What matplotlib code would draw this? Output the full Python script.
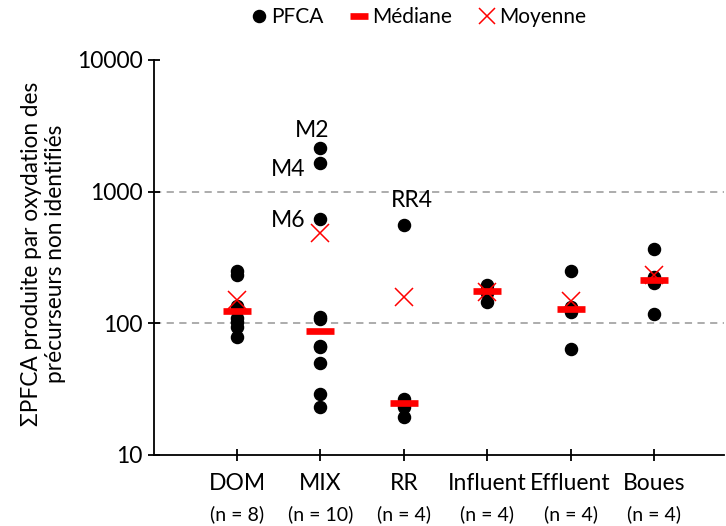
import numpy as np
import matplotlib
matplotlib.use("Agg")
import matplotlib.pyplot as plt
from matplotlib.lines import Line2D
import matplotlib.transforms as mtransforms

plt.rcParams['font.family'] = ['Lato', 'DejaVu Sans']

# categories and counts
categories = ["DOM", "MIX", "RR", "Influent", "Effluent", "Boues"]
n_labels = ["(n = 8)", "(n = 10)", "(n = 4)", "(n = 4)", "(n = 4)", "(n = 4)"]

# PFCA values per category
dom = [250, 233, 136, 130, 110, 102, 94, 79]
mix = [2133, 1641, 624, 112, 108, 67, 66, 50, 29, 23]
rr = [558, 26.5, 23, 19.3]
influent = [196, 182, 170, 144]
effluent = [251, 133, 122, 63.5]
boues = [365, 226, 204, 117]
pfca = [dom, mix, rr, influent, effluent, boues]

medianes = [124, 87.5, 24.7, 176, 128, 213]
moyennes = [150, 489, 159, 174, 149, 233]

# labelled points: (category index, value, text)
labels_pts = [(1, 2133, "M2"), (1, 1641, "M4"), (1, 624, "M6"), (2, 558, "RR4")]

grid_vals = [100, 1000]

fig = plt.figure(figsize=(7.26, 5.26), dpi=100)
ax = fig.add_axes([0.2116, 0.135, 0.7857, 0.751])

xs = np.arange(1, len(categories) + 1)

for x, vals in zip(xs, pfca):
    ax.plot([x] * len(vals), vals, 'o', color='black', markersize=8.7, zorder=3)

ax.plot(xs, medianes, '_', color='#FF0000', markersize=20, markeredgewidth=4.8, zorder=4)
ax.plot(xs, moyennes, 'x', color='#FF0000', markersize=13.5, markeredgewidth=1.1, zorder=5)

for g in grid_vals:
    ax.axhline(g, color='#A6A6A6', linestyle=(0, (4, 3)), linewidth=1.3, zorder=1)

ax.set_yscale('log')
ax.set_ylim(10, 10000)
ax.set_xlim(0, 6.84)
ax.set_yticks([10, 100, 1000, 10000])
ax.set_yticklabels(["10", "100", "1000", "10000"])
ax.yaxis.set_minor_locator(matplotlib.ticker.NullLocator())
ax.set_xticks(xs)
ax.set_xticklabels([])

for s in ['top', 'right']:
    ax.spines[s].set_visible(False)
for s in ['left', 'bottom']:
    ax.spines[s].set_linewidth(1.3)

ax.tick_params(axis='y', direction='inout', length=8, width=1.3, labelsize=16.5, pad=4)
ax.tick_params(axis='x', direction='inout', length=8, width=1.3)

trans = mtransforms.blended_transform_factory(ax.transData, fig.transFigure)
for x, cat, n in zip(xs, categories, n_labels):
    ax.text(x, 1 - 484 / 526, cat, transform=trans, ha='center', va='center', fontsize=16.5)
    ax.text(x, 1 - 514 / 526, n, transform=trans, ha='center', va='center', fontsize=14)

offsets = {"M2": (-5.8, 12.7, 'center'), "M4": (-10.8, -4.8, 'right'),
           "M6": (-10.8, -1.7, 'right'), "RR4": (5.5, 17.5, 'center')}
for ci, v, t in labels_pts:
    dx, dy, ha = offsets[t]
    ax.annotate(t, (xs[ci], v), xytext=(dx, dy), textcoords='offset points',
                ha=ha, va='center', fontsize=16.5)

fig.text(0.06, 1 - 254 / 526, "\u03a3PFCA produite par oxydation des\npr\u00e9curseurs non identifi\u00e9s",
         rotation=90, ha='center', va='center', fontsize=16.3, linespacing=1.15)

handles = [
    Line2D([], [], marker='o', color='black', linestyle='none', markersize=8.7),
    Line2D([], [], marker='_', color='#FF0000', linestyle='none', markersize=13, markeredgewidth=4.8),
    Line2D([], [], marker='x', color='#FF0000', linestyle='none', markersize=12, markeredgewidth=1.1),
]
fig.legend(handles, ["PFCA", "M\u00e9diane", "Moyenne"], loc='center', bbox_to_anchor=(0.575, 1 - 17 / 526),
           ncol=3, frameon=False, fontsize=15, handletextpad=0.1, columnspacing=1.2, handlelength=1.0)

fig.savefig("out.png", dpi=100)
